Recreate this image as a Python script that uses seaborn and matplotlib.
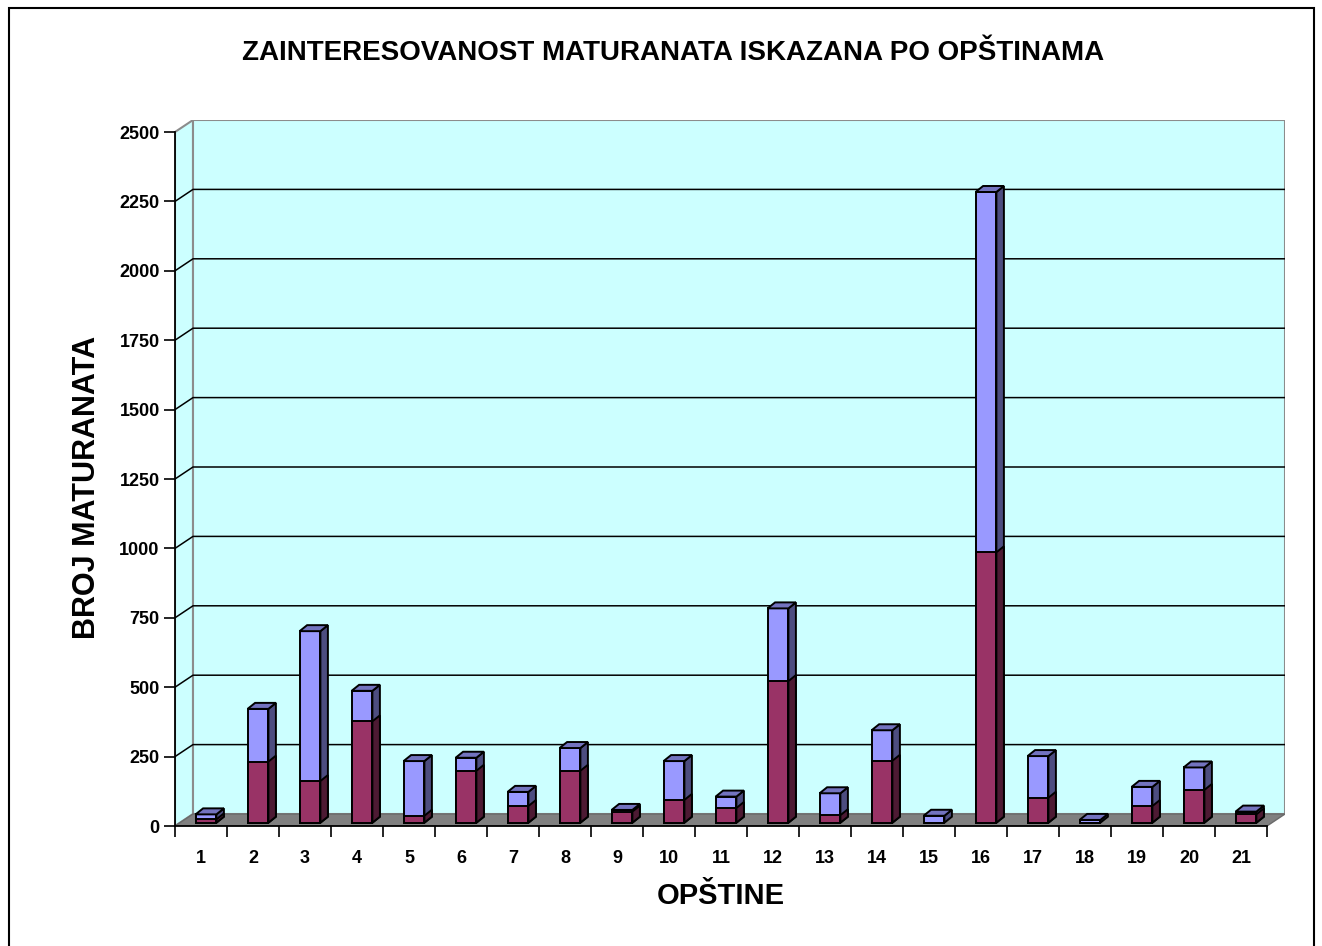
import numpy as np
import pandas as pd
import matplotlib
matplotlib.use("Agg")
import matplotlib.pyplot as plt
from matplotlib.patches import Polygon, Rectangle
import seaborn as sns

# data
opstine = [str(i) for i in range(1, 22)]
donji = [12, 220, 150, 365, 25, 187, 60, 187, 40, 82, 53, 510, 27, 223, 0, 974, 90, 0, 60, 118, 30]
gornji = [18, 190, 540, 110, 197, 47, 51, 82, 6, 140, 41, 262, 79, 110, 25, 1298, 150, 10, 69, 81, 10]
y_ticks = list(range(0, 2501, 250))

df = pd.DataFrame({"opstina": opstine, "donji": donji, "gornji": gornji})
df["ukupno"] = df["donji"] + df["gornji"]

sns.set_style("white")
plt.rcParams["font.family"] = ["Liberation Sans", "DejaVu Sans"]
plt.rcParams["font.weight"] = "bold"
for key in ["text.color", "axes.labelcolor", "xtick.color", "ytick.color"]:
    plt.rcParams[key] = "black"

W, H = 1322, 946
fig = plt.figure(figsize=(W / 100, H / 100), dpi=100)
fig.patch.set_facecolor("white")

# axes: front floor edge from px 175..1267, y 0 at px 826, 2500 at px 132
x_px = 1092 / 21          # pixels per category
y_px = 694 / 2500         # pixels per unit
dx = 18 / x_px            # wall depth
dy = 12 / y_px
ax = fig.add_axes([175 / W, (H - 826) / H, (1092 + 18) / W, (694 + 12) / H])
ax.set_xlim(-0.5, 20.5 + dx)
ax.set_ylim(0, 2500 + dy)
ax.patch.set_alpha(0)

cyan = "#CCFFFF"
wall_edge = "#8C8C8C"
# left side wall and back wall
ax.add_patch(Polygon([(-0.5, 0), (-0.5 + dx, dy), (-0.5 + dx, 2500 + dy), (-0.5, 2500)],
                     closed=True, facecolor=cyan, edgecolor=wall_edge, lw=1.5, zorder=0))
ax.add_patch(Rectangle((-0.5 + dx, dy), 21, 2500, facecolor=cyan, edgecolor=wall_edge,
                       lw=1.5, zorder=0))
for v in y_ticks[1:-1]:
    ax.plot([-0.5, -0.5 + dx, 20.5 + dx], [v, v + dy, v + dy], color="black", lw=1.1, zorder=0.5)
# floor
ax.add_patch(Polygon([(-0.5, 0), (20.5, 0), (20.5 + dx, dy), (-0.5 + dx, dy)], closed=True,
                     facecolor="#808080", edgecolor="#6a6a6a", lw=1, zorder=1))

n_before = len(ax.patches)
# stacked bars: total in blue, lower part in maroon on top of it
sns.barplot(data=df, x="opstina", y="ukupno", color="#9999FF", saturation=1, width=0.4,
            edgecolor="black", linewidth=1.4, ax=ax)
sns.barplot(data=df, x="opstina", y="donji", color="#993366", saturation=1, width=0.4,
            edgecolor="black", linewidth=1.4, ax=ax)
bars = list(ax.patches[n_before:])

# small 3D look: shift onto the floor and add side / top faces
shift = 5 / x_px
base = 3.3 / y_px
bdx = 7.5 / x_px
bdy = 6 / y_px
n = len(opstine)
for k, p in enumerate(bars):
    blue = k < n
    p.set_x(p.get_x() + shift)
    p.set_y(p.get_y() + base)
    z = 3 if blue else 4
    p.set_zorder(z)
    x0, y0, w, h = p.get_x(), p.get_y(), p.get_width(), p.get_height()
    if h <= 0:
        continue
    side_c = "#4D4D80" if blue else "#4D1A33"
    ax.add_patch(Polygon([(x0 + w, y0), (x0 + w + bdx, y0 + bdy), (x0 + w + bdx, y0 + h + bdy),
                          (x0 + w, y0 + h)], closed=True, facecolor=side_c,
                         edgecolor="black", lw=1.4, zorder=z))
    if blue:
        ax.add_patch(Polygon([(x0, y0 + h), (x0 + bdx, y0 + h + bdy), (x0 + w + bdx, y0 + h + bdy),
                              (x0 + w, y0 + h)], closed=True, facecolor="#7373BF",
                             edgecolor="black", lw=1.4, zorder=z))

# axes, ticks
for s in ["top", "right"]:
    ax.spines[s].set_visible(False)
ax.spines["left"].set_bounds(0, 2500)
ax.spines["bottom"].set_bounds(-0.5, 20.5)
for s in ["left", "bottom"]:
    ax.spines[s].set_color("black")
    ax.spines[s].set_linewidth(1.3)
    ax.spines[s].set_zorder(2)

ax.set_xlim(-0.5, 20.5 + dx)
ax.set_ylim(0, 2500 + dy)
ax.set_yticks(y_ticks)
ax.set_yticklabels([str(v) for v in y_ticks], fontsize=13, fontweight="bold")
ax.set_xticks(range(n))
ax.set_xticklabels(opstine, fontsize=13, fontweight="bold")
ax.set_xticks(np.arange(-0.5, n, 1), minor=True)
ax.tick_params(axis="y", direction="out", length=8, width=1.2, pad=3, left=True, colors="black")
ax.tick_params(axis="x", which="major", length=0, pad=17, bottom=True, colors="black")
ax.tick_params(axis="x", which="minor", direction="out", length=8, width=1.2, bottom=True,
               colors="black")
ax.set_xlabel("")
ax.set_ylabel("")

fig.text(673 / W, 1 - 53 / H, "ZAINTERESOVANOST MATURANATA ISKAZANA PO OPŠTINAMA",
         fontsize=20, fontweight="bold", ha="center", va="center", color="black")
fig.text(87 / W, 1 - 487 / H, "BROJ MATURANATA", fontsize=22, fontweight="bold",
         rotation=90, ha="center", va="center", color="black")
fig.text(721 / W, 1 - 896 / H, "OPŠTINE", fontsize=21, fontweight="bold",
         ha="center", va="center", color="black")

# outer chart border
fig.add_artist(Rectangle((9 / W, -0.01), (1314 - 9) / W, 1 - 8 / H + 0.01,
                         transform=fig.transFigure, fill=False, edgecolor="black", lw=1.5))

fig.savefig("out.png", dpi=100)
